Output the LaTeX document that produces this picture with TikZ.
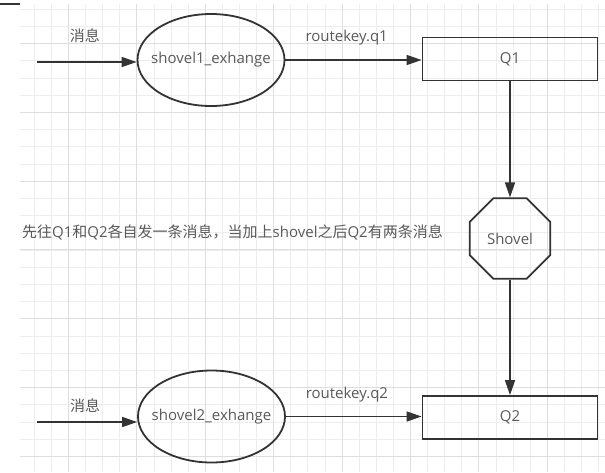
\documentclass[tikz,border=0pt]{standalone}
\usepackage{fontspec}
\setmainfont{Open Sans}
\newfontfamily\cjk{Noto Sans CJK SC}
\usetikzlibrary{positioning, arrows.meta, shapes.geometric}
\definecolor{linegray}{HTML}{333333}
\definecolor{textgray}{HTML}{595959}
\definecolor{gridminor}{HTML}{EDEDED}
\definecolor{gridmajor}{HTML}{DEDEDE}

\begin{document}
\begin{tikzpicture}[x=1pt, y=-1pt,
		exch/.style={draw=linegray, ellipse, line width=1.8pt, minimum width=147pt,
			minimum height=92pt, inner xsep=-12pt, inner ysep=0pt, text=textgray,
			font=\fontsize{15}{18}\selectfont},
		queue/.style={draw=linegray, rectangle, line width=1.8pt, minimum width=175pt,
			minimum height=43pt, text=textgray, font=\fontsize{15}{18}\selectfont},
		shovelbox/.style={draw=linegray, regular polygon, regular polygon sides=8,
			minimum size=87pt, inner sep=0pt, line width=1.8pt, text=textgray,
			font=\fontsize{15}{18}\selectfont},
		arrow/.style={-{Triangle[length=15pt, width=10pt]}, line width=1.6pt, draw=linegray},
		lbl/.style={inner sep=0pt, text=textgray, font=\fontsize{15}{18}\selectfont},
		note/.style={inner sep=0pt, text=textgray, font=\fontsize{15}{18}\selectfont},
		gridline/.style={draw=gridminor, line width=0.8pt},
		gridmain/.style={draw=gridmajor, line width=0.9pt},
		]
		\useasboundingbox (0,0) rectangle (605,472);
		
		% grid
		\foreach \k in {2,...,35}
			\draw[gridline] (17.1*\k,4) -- (17.1*\k,472);
		\foreach \k in {0,...,26}
			\draw[gridline] (20,9.1+17.2*\k) -- (605,9.1+17.2*\k);
		\foreach \k in {4,8,...,32}
			\draw[gridmain] (17.1*\k,4) -- (17.1*\k,472);
		\foreach \k in {2,6,...,26}
			\draw[gridmain] (20,9.1+17.2*\k) -- (605,9.1+17.2*\k);
		\draw[linegray, line width=1.5pt] (0,4) -- (20,4);
		
		\node[exch]      (ex1)    at (211,60)      {shovel1\_exhange};
		\node[queue]     (q1)     at (510,59)      {Q1};
		\node[shovelbox] (shovel) at (510,238.5)   {Shovel};
		\node[exch]      (ex2)    at (211.5,416.5) {shovel2\_exhange};
		\node[queue]     (q2)     at (510,417.5)   {Q2};
		\node[note, anchor=west] (note) at (22,232)
			{{\cjk 先往}Q1{\cjk 和}Q2{\cjk 各自发一条消息，当加上}shovel{\cjk 之后}Q2{\cjk 有两条消息}};
		
		\coordinate (in1) at (37,62);
		\coordinate (in2) at (37,422);
		
		\draw[arrow] (in1) -- node[lbl, above=19pt, pos=0.48] (msg1) {\cjk 消息} (in1 -| ex1.west);
		\draw[arrow] (ex1.east) -- node[lbl, above=14pt, pos=0.45] (key1) {routekey.q1} (ex1.east -| q1.west);
		\draw[arrow] (q1.south) -- (q1.south |- shovel.north);
		\draw[arrow] (shovel.south) -- (shovel.south |- q2.north);
		\draw[arrow] (in2) -- node[lbl, above=9pt, pos=0.48] (msg2) {\cjk 消息} (in2 -| ex2.west);
		\draw[arrow] (ex2.east) -- node[lbl, above=14pt, pos=0.45] (key2) {routekey.q2} (ex2.east -| q2.west);
		
	\end{tikzpicture}
\end{document}
